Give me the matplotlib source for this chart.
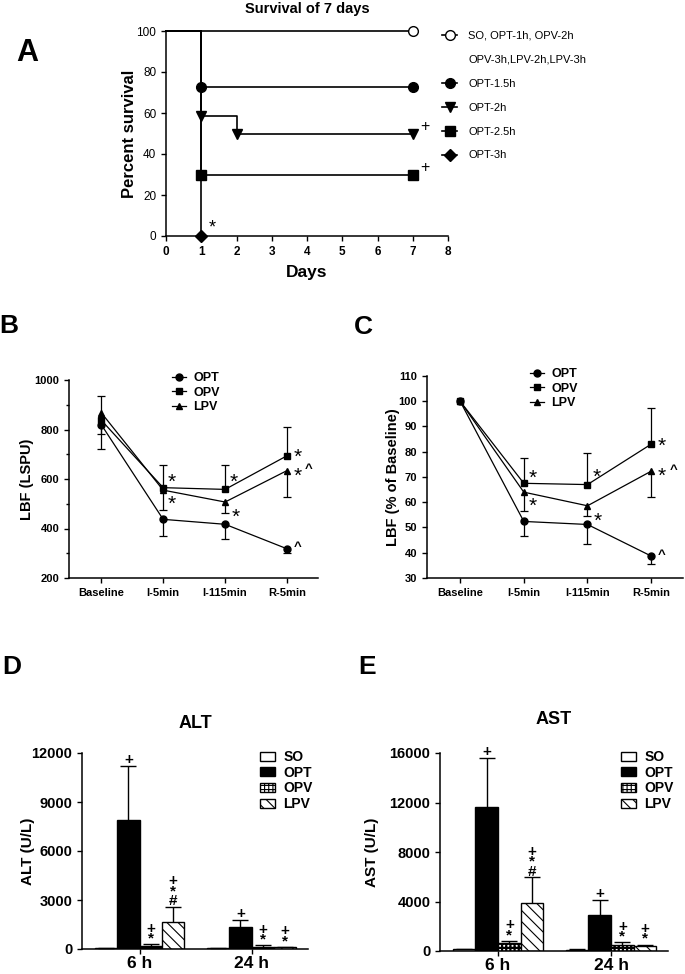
import numpy as np
import matplotlib
matplotlib.use("Agg")
import matplotlib.pyplot as plt
from matplotlib.lines import Line2D

plt.rcParams['font.family'] = ['Liberation Sans', 'DejaVu Sans']
plt.rcParams['hatch.linewidth'] = 0.8
plt.rcParams['axes.linewidth'] = 1.1

# ---------------- data ----------------
# Panel A: Kaplan-Meier survival (days, percent)
km_labels = ["SO, OPT-1h, OPV-2h", "OPT-1.5h", "OPT-2h", "OPT-2.5h", "OPT-3h"]
km_extra_label = "OPV-3h,LPV-2h,LPV-3h"
km_so_t, km_so_s = [0, 7], [100, 100]
km_15_t, km_15_s = [0, 1, 7], [100, 72.7, 72.7]
km_2_t, km_2_s = [0, 1, 2, 7], [100, 58.3, 50, 50]
km_25_t, km_25_s = [0, 1, 7], [100, 30, 30]
km_3_t, km_3_s = [0, 1], [100, 0]

# Panels B/C: liver blood flow
time_points = ["Baseline", "I-5min", "I-115min", "R-5min"]
lbf_opt = [820, 437, 417, 318]
lbf_opt_lo = [98, 67, 59, 18]
lbf_opv = [838, 565, 558, 694]
lbf_opv_up = [0, 91, 98, 116]
lbf_opv_lo = [58, 0, 0, 0]
lbf_lpv = [868, 555, 507, 634]
lbf_lpv_up = [67, 0, 0, 0]
lbf_lpv_lo = [0, 80, 46, 108]

pct_opt = [100, 52.4, 51.2, 38.7]
pct_opt_lo = [0, 5.7, 7.8, 3.2]
pct_opv = [100, 67.5, 67.0, 83.0]
pct_opv_up = [0, 10.1, 12.7, 14.3]
pct_lpv = [100, 64.0, 58.6, 72.3]
pct_lpv_lo = [0, 7.3, 4.0, 10.3]

# Panels D/E: liver enzymes
groups = ["SO", "OPT", "OPV", "LPV"]
times = ["6 h", "24 h"]
alt_mean = {"SO": [40, 35], "OPT": [7880, 1365], "OPV": [180, 140], "LPV": [1650, 100]}
alt_err = {"SO": [10, 5], "OPT": [3320, 430], "OPV": [105, 100], "LPV": [940, 40]}
ast_mean = {"SO": [130, 110], "OPT": [11630, 2910], "OPV": [620, 480], "LPV": [3860, 420]}
ast_err = {"SO": [20, 20], "OPT": [3970, 1220], "OPV": [220, 220], "LPV": [2100, 100]}
sig_marks = {"SO": [[], []], "OPT": [["+"], ["+"]],
             "OPV": [["+", "*"], ["+", "*"]], "LPV": [["+", "*", "#"], ["+", "*"]]}

# ---------------- figure ----------------
W, H = 685, 974
fig = plt.figure(figsize=(W / 100, H / 100), dpi=100)


def axes_px(l, t, r, b):
    return fig.add_axes([l / W, 1 - b / H, (r - l) / W, (b - t) / H])


def style(ax):
    for s in ("top", "right"):
        ax.spines[s].set_visible(False)
    ax.tick_params(direction="out", length=3.5, width=1.0, color="k")


def errs(ax, x, y, up, lo, cap=6, lw=0.9):
    for xi, yi, u, l in zip(x, y, up, lo):
        if u > 0:
            ax.vlines(xi, yi, yi + u, color="k", lw=lw, zorder=1)
            ax.plot([xi], [yi + u], marker="_", ms=cap, mew=lw, color="k", zorder=1)
        if l > 0:
            ax.vlines(xi, yi - l, yi, color="k", lw=lw, zorder=1)
            ax.plot([xi], [yi - l], marker="_", ms=cap, mew=lw, color="k", zorder=1)


def panel_letter(x, y, s, size=20):
    fig.text(x / W, 1 - y / H, s, fontsize=size, fontweight="bold", ha="center", va="center")


# ---------------- Panel A ----------------
axA = axes_px(166, 31, 448, 236)
style(axA)
kms = [(km_so_t, km_so_s, "o", "white"), (km_15_t, km_15_s, "o", "k"),
       (km_2_t, km_2_s, "v", "k"), (km_25_t, km_25_s, "s", "k"), (km_3_t, km_3_s, "D", "k")]
handles = []
for (t, s, m, fc), lab in zip(kms, km_labels):
    axA.step(t, s, where="post", color="k", lw=1.2, clip_on=False, zorder=2)
    axA.plot(t[1:], s[1:], ls="none", marker=m, ms=7 if m != "D" else 6, mfc=fc, mec="k",
             mew=1.0, clip_on=False, zorder=3)
    handles.append(Line2D([], [], color="k", lw=1.2, marker=m, ms=7 if m != "D" else 6,
                          mfc=fc, mec="k"))
handles.insert(1, Line2D([], [], ls="none"))
labels = [km_labels[0], km_extra_label] + km_labels[1:]
axA.set_xlim(0, 8)
axA.set_ylim(0, 100)
axA.set_xticks(range(0, 9))
axA.set_yticks(range(0, 101, 20))
for lab in axA.get_xticklabels():
    lab.set_fontweight("bold")
axA.tick_params(labelsize=8.5)
axA.set_ylabel("Percent survival", fontsize=12, fontweight="bold", va="center")
axA.yaxis.set_label_coords((130 - 166) / 282, 0.5)
axA.set_xlabel("Days", fontsize=12.5, fontweight="bold", va="center")
axA.xaxis.set_label_coords(0.5, (236 - 272) / 205)
fig.text(307 / W, 1 - 9 / H, "Survival of 7 days", fontsize=10.5, fontweight="bold",
         ha="center", va="center")
axA.text(1.2, 4, "*", fontsize=13, ha="left", va="center")
axA.text(7.22, 53.5, "+", fontsize=11.5, ha="left", va="center")
axA.text(7.22, 33.5, "+", fontsize=11.5, ha="left", va="center")
fig.legend(handles, labels, loc="upper left", bbox_to_anchor=(442 / W, 1 - 31 / H),
           frameon=False, fontsize=8, handlelength=1.35, handletextpad=1.0,
           labelspacing=1.25, borderpad=0, borderaxespad=0)
panel_letter(27, 53, "A", 22)

# ---------------- Panels B and C ----------------
def lbf_panel(ax, opt, opt_lo, opv, opv_up, opv_lo, lpv, lpv_up, lpv_lo, legend_xy):
    style(ax)
    x = np.arange(len(time_points))
    z0 = np.zeros(len(x))
    errs(ax, x, opt, z0, opt_lo)
    errs(ax, x, opv, opv_up, opv_lo)
    errs(ax, x, lpv, lpv_up, lpv_lo)
    ax.plot(x, opt, "-o", color="k", lw=0.9, ms=5, label="OPT", zorder=3)
    ax.plot(x, opv, "-s", color="k", lw=0.9, ms=5, label="OPV", zorder=3)
    ax.plot(x, lpv, "-^", color="k", lw=0.9, ms=5, label="LPV", zorder=3)
    ax.set_xlim(-0.52, 3.5)
    ax.set_xticks(x)
    ax.set_xticklabels(time_points)
    ax.tick_params(labelsize=8)
    for lab in ax.get_xticklabels() + ax.get_yticklabels():
        lab.set_fontweight("bold")
    fig.legend(loc="upper left", handles=ax.get_lines()[-3:],
               bbox_to_anchor=(legend_xy[0] / W, 1 - legend_xy[1] / H), frameon=False,
               prop={"size": 9, "weight": "bold"}, handlelength=1.1, handletextpad=0.6,
               labelspacing=0.2, borderpad=0, borderaxespad=0)
    return x


axB = axes_px(69, 380, 318, 578)
xB = lbf_panel(axB, lbf_opt, lbf_opt_lo, lbf_opv, lbf_opv_up, lbf_opv_lo,
               lbf_lpv, lbf_lpv_up, lbf_lpv_lo, (172, 372))
axB.set_ylim(200, 1000)
axB.set_yticks(range(200, 1001, 200))
axB.set_yticks(range(300, 1000, 200), minor=True)
axB.tick_params(which="minor", length=2.5, width=1.0)
axB.set_ylabel("LBF (LSPU)", fontsize=10.5, fontweight="bold", va="center")
axB.yaxis.set_label_coords((27 - 69) / 249, 0.5)

axC = axes_px(427, 376, 683, 578)
xC = lbf_panel(axC, pct_opt, pct_opt_lo, pct_opv, pct_opv_up, [0] * 4,
               pct_lpv, [0] * 4, pct_lpv_lo, (530, 368))
axC.set_ylim(30, 110)
axC.set_yticks(range(30, 111, 10))
axC.set_ylabel("LBF (% of Baseline)", fontsize=10.5, fontweight="bold", va="center")
axC.yaxis.set_label_coords((393 - 427) / 256, 0.5)


def star_annots(ax, opt, opv, lpv):
    kw = dict(textcoords="offset points", fontsize=15, ha="left", va="center")
    ax.annotate("*", (1, opv[1]), xytext=(3.5, 3.5), **kw)
    ax.annotate("*", (1, lpv[1]), xytext=(3.5, -10), **kw)
    ax.annotate("*", (2, opv[2]), xytext=(3.5, 5), **kw)
    ax.annotate("*", (2, lpv[2]), xytext=(4.5, -11), **kw)
    ax.annotate("*", (3, opv[3]), xytext=(4.5, -1.5), **kw)
    ax.annotate("*", (3, lpv[3]), xytext=(4.5, -4), **kw)
    ax.annotate("^", (3, lpv[3]), xytext=(13, 1), textcoords="offset points",
                fontsize=9.5, fontweight="bold", ha="left", va="center")
    ax.annotate("^", (3, opt[3]), xytext=(5, 1), textcoords="offset points",
                fontsize=9.5, fontweight="bold", ha="left", va="center")


star_annots(axB, lbf_opt, lbf_opv, lbf_lpv)
star_annots(axC, pct_opt, pct_opv, pct_lpv)
panel_letter(9, 326, "B", 19)
panel_letter(363, 327, "C", 19)

# ---------------- Panels D and E ----------------
fills = {"SO": ("white", ""), "OPT": ("black", ""), "OPV": ("white", "++++"),
         "LPV": ("white", "\\\\\\")}


def enzyme_panel(ax, mean, err, ylim, yticks, ylabel, label_x, legend_xy):
    style(ax)
    centers = np.array([0, 5])
    for i, g in enumerate(groups):
        xs = centers + (i - 1.5)
        fc, hatch = fills[g]
        bars = ax.bar(xs, mean[g], width=1.0, color=fc, edgecolor="k", hatch=hatch, lw=1.0,
                      label=g, zorder=2)
        if g == "OPV":
            for b in bars:
                try:
                    b.set_hatch_linewidth(1.6)
                except AttributeError:
                    pass
        errs(ax, xs, mean[g], err[g], [0, 0], cap=12, lw=1.0)
        for xi, top, marks in zip(xs, np.array(mean[g]) + np.array(err[g]), sig_marks[g]):
            if marks:
                ax.annotate("\n".join(marks), (xi, top), xytext=(0, -1),
                            textcoords="offset points", ha="center", va="bottom",
                            fontsize=11, linespacing=0.62, fontweight="bold")
    ax.set_xlim(-2.57, 7.52)
    ax.set_ylim(*ylim)
    ax.set_yticks(yticks)
    ax.set_xticks(centers)
    ax.set_xticklabels(times)
    ax.tick_params(axis="y", labelsize=10.5)
    ax.tick_params(axis="x", labelsize=12.5, length=3.5, pad=1.5)
    for lab in ax.get_xticklabels() + ax.get_yticklabels():
        lab.set_fontweight("bold")
    ax.set_ylabel(ylabel, fontsize=11, fontweight="bold", va="center")
    ax.yaxis.set_label_coords(label_x, 0.5)
    fig.legend(handles=ax.patches[0:1] + ax.patches[2:3] + ax.patches[4:5] + ax.patches[6:7],
               labels=groups, loc="upper left",
               bbox_to_anchor=(legend_xy[0] / W, 1 - legend_xy[1] / H), frameon=False,
               prop={"size": 10, "weight": "bold"}, handlelength=1.1, handleheight=0.6,
               handletextpad=0.6, labelspacing=0.12, borderpad=0, borderaxespad=0)


axD = axes_px(82, 753, 308, 949)
enzyme_panel(axD, alt_mean, alt_err, (0, 12000), range(0, 12001, 3000), "ALT (U/L)",
             (28 - 82) / 226, (260, 750))
fig.text(195 / W, 1 - 723 / H, "ALT", fontsize=13, fontweight="bold", ha="center", va="center")

axE = axes_px(440, 753, 668, 951)
enzyme_panel(axE, ast_mean, ast_err, (0, 16000), range(0, 16001, 4000), "AST (U/L)",
             (372 - 440) / 228, (621, 750))
fig.text(554 / W, 1 - 720 / H, "AST", fontsize=13, fontweight="bold", ha="center", va="center")

panel_letter(12, 667, "D", 19)
panel_letter(367, 667, "E", 19)

fig.savefig("out.png", dpi=100)
